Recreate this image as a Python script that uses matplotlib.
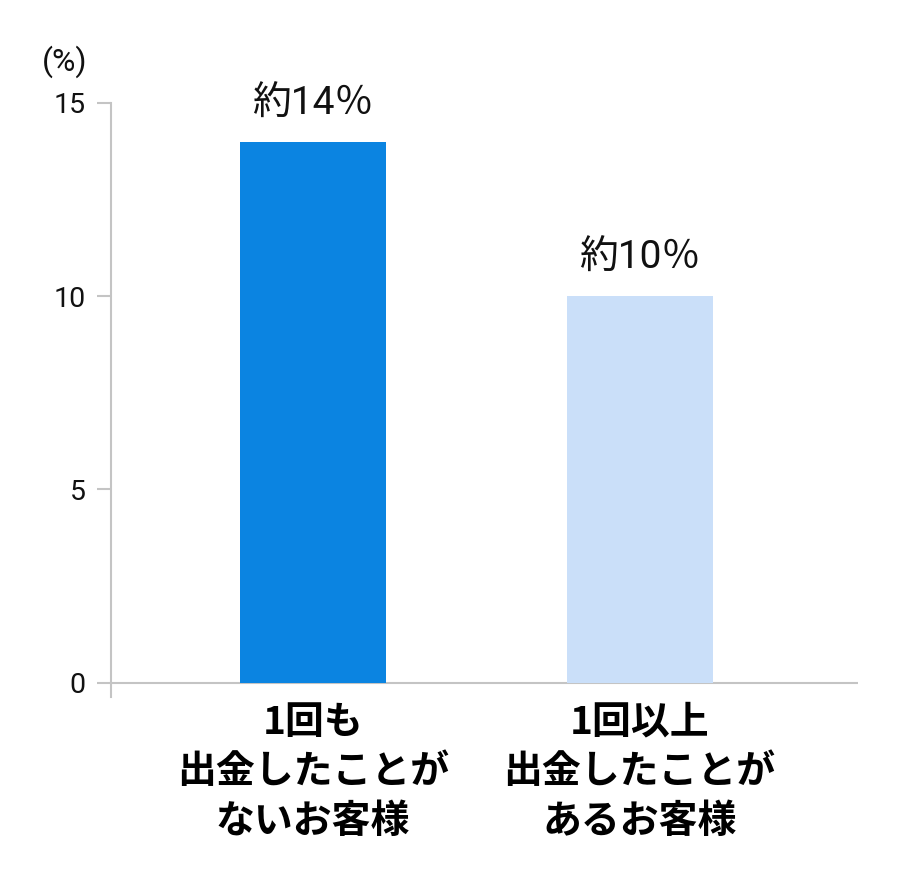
import matplotlib
matplotlib.use("Agg")
import matplotlib.pyplot as plt

# data
categories = ["1回も\n出金したことが\nないお客様", "1回以上\n出金したことが\nあるお客様"]
values = [14, 10]
bar_labels = ["約14％", "約10％"]
bar_colors = ["#0B84E1", "#CADFF9"]
yticks = [0, 5, 10, 15]

plt.rcParams['font.family'] = ['Roboto', 'Noto Sans CJK JP', 'DejaVu Sans']

fig = plt.figure(figsize=(9.2, 8.86), dpi=100)
ax = fig.add_axes([111 / 920, 1 - 697 / 886, 747 / 920, 594 / 886])

x = list(range(len(values)))
ax.bar(x, values, width=0.447, color=bar_colors)

for xi, v, lab in zip(x, values, bar_labels):
    ax.annotate(lab, (xi, v), xytext=(0, 27), textcoords='offset points',
                ha='center', va='center', fontsize=28, color='#111111')

ax.set_xlim(-0.619, 1.669)
ax.set_ylim(-0.37, 15)
ax.axhline(0, color='#c4c4c4', lw=1.5, zorder=0)

for s in ['top', 'right', 'bottom']:
    ax.spines[s].set_visible(False)
ax.spines['left'].set_color('#c4c4c4')
ax.spines['left'].set_linewidth(1.5)
ax.spines['left'].set_bounds(-0.37, 15)

ax.set_yticks(yticks)
ax.set_yticklabels([str(t) for t in yticks], fontsize=20.5, color='#111111')
ax.tick_params(axis='y', length=10, width=1.5, color='#c4c4c4', pad=8)

ax.set_xticks(x)
ax.set_xticklabels(categories, fontsize=28, fontweight='bold',
                   family=['Noto Sans CJK JP'], linespacing=1.34)
ax.tick_params(axis='x', length=0, pad=4)

fig.text(42 / 920, 1 - 62 / 886, "(%)", fontsize=23, va='center', ha='left', color='#111111')

fig.savefig("out.png", dpi=100)
